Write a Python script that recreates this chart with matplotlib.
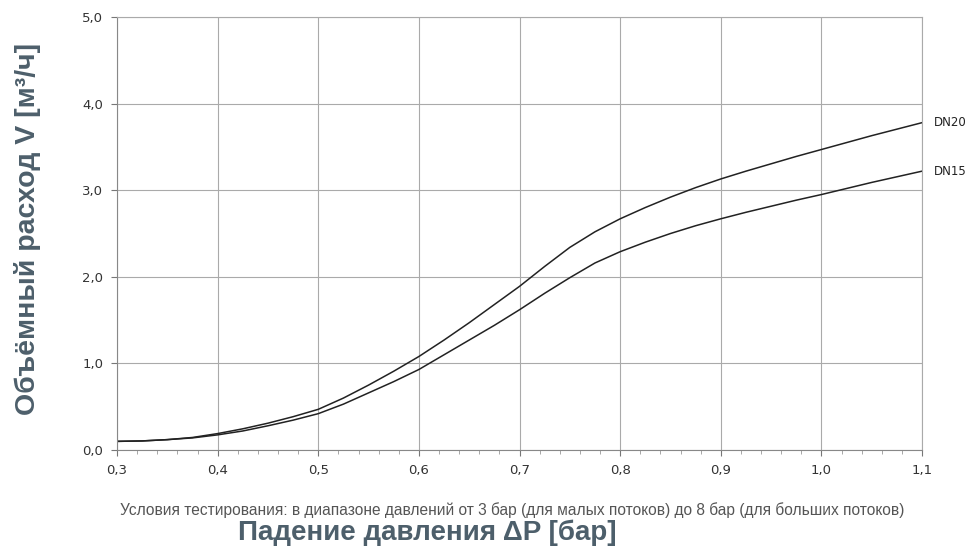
import matplotlib
matplotlib.use("Agg")
import matplotlib.pyplot as plt
from matplotlib.ticker import MultipleLocator, FuncFormatter

# перепад давления, бар
dp = [0.30, 0.325, 0.35, 0.375, 0.40, 0.425, 0.45, 0.475, 0.50, 0.525, 0.55,
      0.575, 0.60, 0.625, 0.65, 0.675, 0.70, 0.725, 0.75, 0.775, 0.80, 0.825,
      0.85, 0.875, 0.90, 0.925, 0.95, 0.975, 1.00, 1.025, 1.05, 1.075, 1.10]
# расход, м3/ч
dn20 = [0.10, 0.105, 0.12, 0.145, 0.19, 0.245, 0.31, 0.385, 0.47, 0.60, 0.75,
        0.91, 1.08, 1.27, 1.47, 1.68, 1.89, 2.12, 2.34, 2.52, 2.67, 2.80,
        2.92, 3.03, 3.13, 3.22, 3.305, 3.39, 3.47, 3.55, 3.63, 3.705, 3.78]
dn15 = [0.10, 0.105, 0.12, 0.14, 0.175, 0.22, 0.28, 0.345, 0.42, 0.53, 0.66,
        0.79, 0.93, 1.10, 1.27, 1.44, 1.62, 1.81, 1.99, 2.16, 2.29, 2.40,
        2.50, 2.59, 2.67, 2.745, 2.815, 2.885, 2.95, 3.02, 3.09, 3.155, 3.22]
names = ["DN20", "DN15"]

fig = plt.figure(figsize=(9.68, 5.56), dpi=100)
ax = fig.add_axes([0.1209, 0.1906, 0.8316, 0.7788])

ax.plot(dp, dn20, color="#222222", lw=1.1)
ax.plot(dp, dn15, color="#222222", lw=1.1)
ax.text(dp[-1] + 0.012, dn20[-1], names[0], fontsize=8.5, color="#222222", va="center")
ax.text(dp[-1] + 0.012, dn15[-1], names[1], fontsize=8.5, color="#222222", va="center")

ax.set_xlim(0.3, 1.1)
ax.set_ylim(0, 5)
ax.xaxis.set_major_locator(MultipleLocator(0.1))
ax.xaxis.set_minor_locator(MultipleLocator(0.02))
ax.yaxis.set_major_locator(MultipleLocator(1.0))
fmt = FuncFormatter(lambda v, p: ("%.1f" % v).replace(".", ","))
ax.xaxis.set_major_formatter(fmt)
ax.yaxis.set_major_formatter(fmt)
ax.tick_params(axis="both", which="major", labelsize=9.5, labelcolor="#333333",
               color="#777777", length=4, width=0.8, pad=6)
ax.tick_params(axis="x", which="minor", color="#999999", length=3, width=0.6)

ax.grid(True, which="major", color="#aaaaaa", lw=0.8)
for s in ["top", "right"]:
    ax.spines[s].set_color("#aaaaaa")
    ax.spines[s].set_linewidth(0.8)
for s in ["left", "bottom"]:
    ax.spines[s].set_color("#888888")
    ax.spines[s].set_linewidth(0.8)

lab = "#4d5f6b"
fig.text(0.028, 0.589, "Объёмный расход V [м³/ч]", rotation=90, ha="center", va="center",
         fontsize=20.5, fontweight="bold", color=lab, family="Liberation Sans")
fig.text(0.124, 0.074, "Условия тестирования: в диапазоне давлений от 3 бар (для малых потоков) до 8 бар (для больших потоков)",
         ha="left", va="baseline", fontsize=11.2, color="#555555", family="Liberation Sans")
fig.text(0.246, 0.029, "Падение давления ΔP [бар]", ha="left", va="baseline",
         fontsize=20, fontweight="bold", color=lab, family="Liberation Sans")

fig.savefig("out.png", dpi=100)
